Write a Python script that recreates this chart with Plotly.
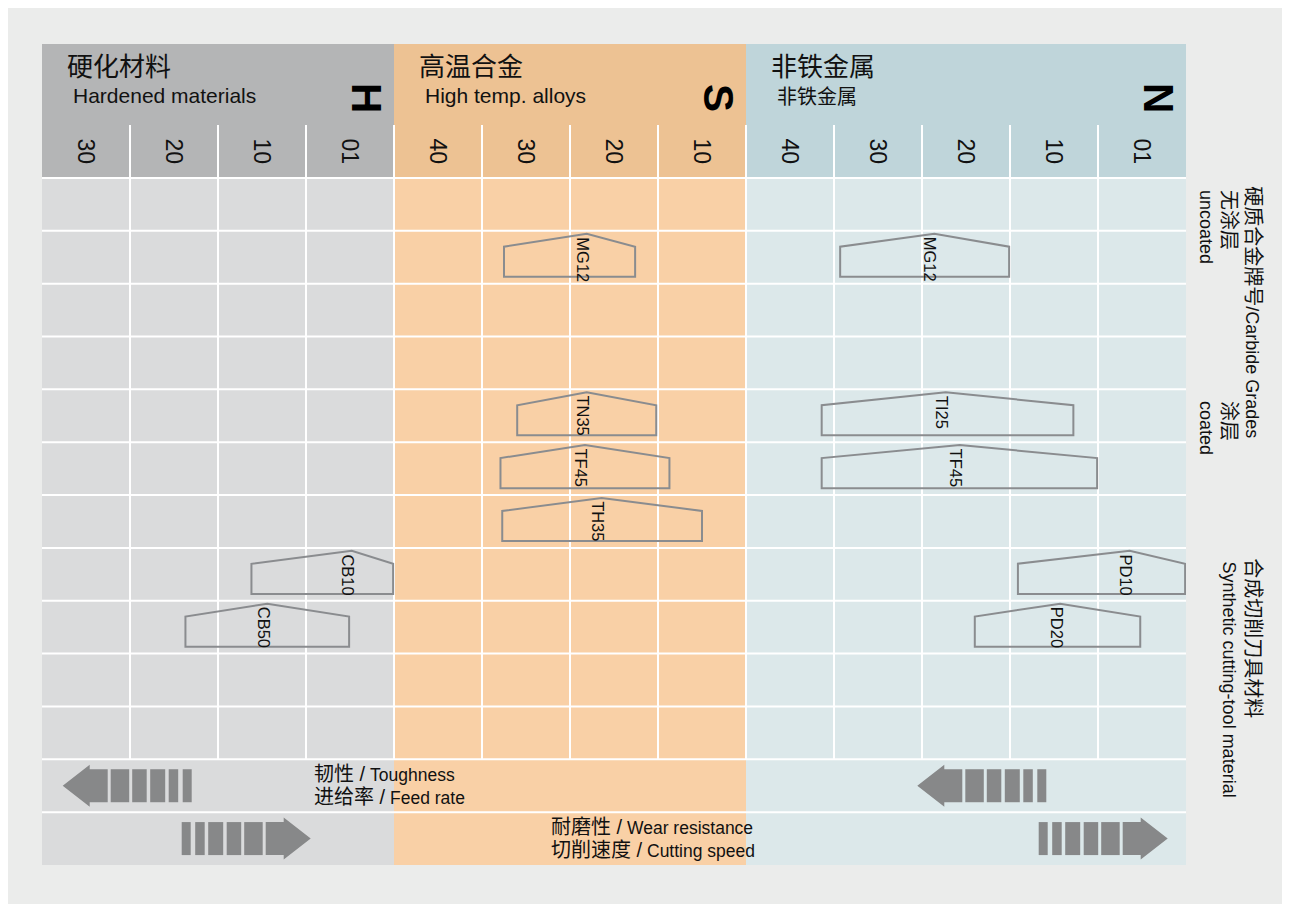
import plotly.graph_objects as go

# material groups (ISO)
group_letters = ["H", "S", "N"]
group_cn = ["硬化材料", "高温合金", "非铁金属"]
group_sub = ["Hardened materials", "High temp. alloys", "非铁金属"]
group_ncols = [4, 4, 5]
tick_labels = ["30", "20", "10", "01", "40", "30", "20", "10", "40", "30", "20", "10", "01"]

# grade application ranges, in column units (0 = left edge of chart)
grade_names = ["MG12", "MG12", "TN35", "TI25", "TF45", "TF45", "TH35", "CB10", "PD10", "CB50", "PD20"]
grade_rows = [1, 1, 4, 4, 5, 5, 6, 7, 7, 8, 8]
grade_left = [5.25, 9.07, 5.40, 8.86, 5.21, 8.86, 5.23, 2.38, 11.09, 1.63, 10.60]
grade_peak = [6.19, 10.14, 6.19, 10.27, 6.17, 10.43, 6.36, 3.52, 12.36, 2.56, 11.57]
grade_right = [6.74, 10.99, 6.98, 11.72, 7.13, 11.99, 7.50, 3.99, 12.99, 3.49, 12.48]

N_BODY = 11
HEADER_TOP = -2.535

HEAD_COL = ["#b4b5b6", "#edc293", "#bfd5da"]
BODY_COL = ["#dadbdc", "#f9d0a6", "#dce8ea"]
LINE_COL = "#8a8c8f"
ARROW_COL = "#878889"
FONT = "Liberation Sans, Arial, Noto Sans CJK SC, sans-serif"
CJK = "Noto Sans CJK SC, Liberation Sans, sans-serif"

PX_X = 88.0
PX_Y = 52.85

shapes = []
annotations = []

# backgrounds
x0 = 0
for g, n in enumerate(group_ncols):
    shapes.append(dict(type="rect", x0=x0, x1=x0 + n, y0=HEADER_TOP, y1=0,
                       fillcolor=HEAD_COL[g], line_width=0, layer="below"))
    shapes.append(dict(type="rect", x0=x0, x1=x0 + n, y0=0, y1=N_BODY + 2,
                       fillcolor=BODY_COL[g], line_width=0, layer="below"))
    annotations.append(dict(x=x0 + 0.26, y=-2.14, text=group_cn[g], showarrow=False,
                            xanchor="left", yanchor="middle",
                            font=dict(family=CJK, size=26, color="#111")))
    annotations.append(dict(x=x0 + 0.33, y=-1.56, text=group_sub[g], showarrow=False,
                            xanchor="left", yanchor="middle",
                            font=dict(family=FONT if g < 2 else CJK,
                                      size=21 if g < 2 else 20, color="#111")))
    annotations.append(dict(x=x0 + n - 0.31, y=-1.52, text="<b>%s</b>" % group_letters[g],
                            showarrow=False, textangle=90, xanchor="center", yanchor="middle",
                            font=dict(family=FONT, size=42, color="#000")))
    x0 += n

ncols = sum(group_ncols)

# white grid
for i in range(1, ncols):
    shapes.append(dict(type="line", x0=i, x1=i, y0=-1, y1=N_BODY,
                       line=dict(color="white", width=2), layer="below"))
for j in range(0, N_BODY + 2):
    shapes.append(dict(type="line", x0=0, x1=ncols, y0=j, y1=j,
                       line=dict(color="white", width=2), layer="below"))

# column tick labels
for i, t in enumerate(tick_labels):
    annotations.append(dict(x=i + 0.5, y=-0.5, text=t, showarrow=False, textangle=90,
                            xanchor="center", yanchor="middle",
                            font=dict(family=FONT, size=23, color="#111")))

# grade pentagons
for name, r, xl, xp, xr in zip(grade_names, grade_rows, grade_left, grade_peak, grade_right):
    yt, ys, yb = r + 0.055, r + 0.30, r + 0.87
    path = "M %f,%f L %f,%f L %f,%f L %f,%f L %f,%f Z" % (xl, yb, xl, ys, xp, yt, xr, ys, xr, yb)
    shapes.append(dict(type="path", path=path, line=dict(color=LINE_COL, width=2),
                       fillcolor="rgba(0,0,0,0)", layer="above"))
    annotations.append(dict(x=xp - 0.04, y=r + 0.08, text=name, showarrow=False, textangle=90,
                            xanchor="center", yanchor="top",
                            font=dict(family=FONT, size=16.5, color="#111")))


# decorative arrows (offsets in px from the tip)
def arrow(tip_px, row, direction):
    sx = direction / PX_X
    yc = row + 0.5
    hh, bh = 21 / PX_Y, 16.5 / PX_Y
    tip = (tip_px - 42) / PX_X
    hx = tip + 27 * sx
    ex = tip + 45 * sx
    path = "M %f,%f L %f,%f L %f,%f L %f,%f L %f,%f L %f,%f L %f,%f Z" % (
        tip, yc, hx, yc - hh, hx, yc - bh, ex, yc - bh, ex, yc + bh, hx, yc + bh, hx, yc + hh)
    shapes.append(dict(type="path", path=path, fillcolor=ARROW_COL, line_width=0))
    for a, b in [(48, 66.5), (69.5, 84), (87.5, 102.5), (106, 115.5), (120, 129)]:
        shapes.append(dict(type="rect", x0=tip + a * sx, x1=tip + b * sx, y0=yc - bh, y1=yc + bh,
                           fillcolor=ARROW_COL, line_width=0))


arrow(62.7, N_BODY, 1)
arrow(917.3, N_BODY, 1)
arrow(310.7, N_BODY + 1, -1)
arrow(1167.7, N_BODY + 1, -1)


def two_size(cn, en):
    return "<span style='font-size:20px'>%s /</span> %s" % (cn, en)


bottom_text = [
    (3.07, 11.5, two_size("韧性", "Toughness") + "<br>" + two_size("进给率", "Feed rate")),
    (5.765, 12.49, two_size("耐磨性", "Wear resistance") + "<br>" + two_size("切削速度", "Cutting speed")),
]
for x, y, t in bottom_text:
    annotations.append(dict(x=x, y=y, text=t, showarrow=False, xanchor="left", yanchor="middle",
                            align="left", font=dict(family=FONT, size=17.5, color="#111")))


def cjk(s):
    return "<span style='font-size:20px'>%s</span>" % s


# side labels (outside the plotting range -> paper coordinates)
side_text = [
    (1253, 0.12, cjk("硬质合金牌号") + "/Carbide Grades"),
    (1229, 0.19, cjk("无涂层")),
    (1206, 0.19, "uncoated"),
    (1229, 4.18, cjk("涂层")),
    (1206, 4.18, "coated"),
    (1253, 7.16, cjk("合成切削刀具材料")),
    (1229, 7.22, "Synthetic cutting-tool material"),
]
for px, y, t in side_text:
    annotations.append(dict(x=(px - 42) / PX_X / ncols, xref="paper", y=y, text=t,
                            showarrow=False, textangle=90, xanchor="center", yanchor="top",
                            font=dict(family=FONT, size=18, color="#111")))

fig = go.Figure()
fig.add_trace(go.Scatter(x=[0, ncols], y=[0, N_BODY], mode="markers",
                         marker=dict(opacity=0), hoverinfo="skip", showlegend=False))
fig.update_layout(
    width=1290, height=904,
    margin=dict(l=34, r=112, t=36, b=47),
    paper_bgcolor="#ebeceb",
    plot_bgcolor="#ebeceb",
    xaxis=dict(range=[0, ncols], visible=False, fixedrange=True),
    yaxis=dict(range=[N_BODY + 2, HEADER_TOP], visible=False, fixedrange=True),
    shapes=shapes,
    annotations=annotations,
    showlegend=False,
)
fig.write_html("out.html")
